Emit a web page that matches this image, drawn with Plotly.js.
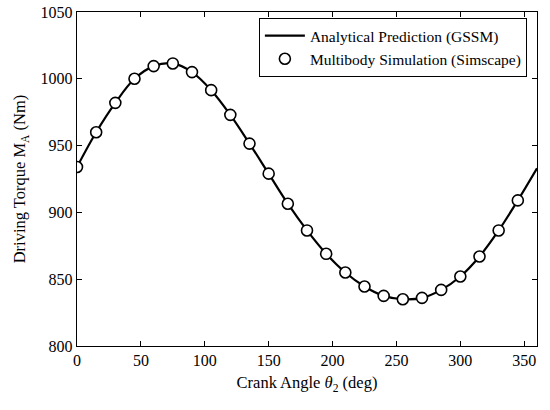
<!DOCTYPE html>
<html>
<head>
<meta charset="utf-8">
<script src="https://cdn.plot.ly/plotly-3.0.1.min.js"></script>
<style>html,body{margin:0;padding:0;background:#fff;}#chart{width:550px;height:410px;}</style>
</head>
<body>
<div id="chart"></div>
<script>
// Analytical prediction (GSSM) - curve samples
const lineAngle = [0,15,30,45,60,75,90,105,120,135,150,165,180,195,210,225,240,255,270,285,300,315,330,345,360];
const lineTorque = [934,960,982,1000,1009.5,1011.5,1005,991.5,973,951.5,929,906.5,886.5,869,855,844.5,837.5,835,836,842,852,867,886.5,909,933];
// Multibody simulation (Simscape) - markers
const simAngle = [0,15,30,45,60,75,90,105,120,135,150,165,180,195,210,225,240,255,270,285,300,315,330,345];
const simTorque = [934,960,982,1000,1009.5,1011.5,1005,991.5,973,951.5,929,906.5,886.5,869,855,844.5,837.5,835,836,842,852,867,886.5,909];

const font = {family: '"Liberation Serif", "Times New Roman", serif', color: '#000'};

const traces = [
  {x: lineAngle, y: lineTorque, mode: 'lines', name: 'Analytical Prediction (GSSM)',
   line: {color: '#000', width: 2.2, shape: 'spline', smoothing: 1}},
  {x: simAngle, y: simTorque, mode: 'markers', name: 'Multibody Simulation (Simscape)',
   marker: {symbol: 'circle', size: 11, color: '#fff', line: {color: '#000', width: 1.6}}}
];

const axisCommon = {
  showline: true, linecolor: '#000', linewidth: 1.2, mirror: 'ticks',
  ticks: 'inside', ticklen: 5, tickwidth: 1, tickcolor: '#000',
  showgrid: false, zeroline: false,
  tickfont: Object.assign({size: 16}, font)
};

const layout = {
  width: 550, height: 410,
  margin: {l: 77, r: 13, t: 12, b: 64},
  paper_bgcolor: '#fff', plot_bgcolor: '#fff',
  font: Object.assign({size: 16}, font),
  showlegend: true,
  legend: {
    x: 0.978, y: 0.982, xanchor: 'right', yanchor: 'top',
    bgcolor: '#fff', bordercolor: '#000', borderwidth: 1,
    font: Object.assign({size: 15.5}, font),
    itemwidth: 40, tracegroupgap: 0
  },
  xaxis: Object.assign({}, axisCommon, {
    range: [0, 360], tickvals: [0,50,100,150,200,250,300,350],
    title: {text: 'Crank Angle <i>θ</i><sub>2</sub> (deg)', font: Object.assign({size: 16.5}, font), standoff: 8}
  }),
  yaxis: Object.assign({}, axisCommon, {
    range: [800, 1050], tickvals: [800,850,900,950,1000,1050],
    title: {text: 'Driving Torque M<sub>A</sub> (Nm)', font: Object.assign({size: 16.5}, font), standoff: 10}
  })
};

Plotly.newPlot('chart', traces, layout, {displayModeBar: false, staticPlot: true});
</script>
</body>
</html>
